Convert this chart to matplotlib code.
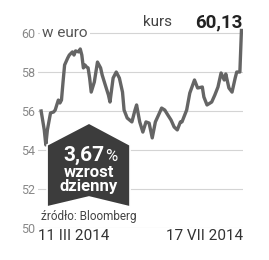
import numpy as np
import matplotlib
matplotlib.use("Agg")
import matplotlib.pyplot as plt
from matplotlib.patches import Polygon

# dni od 11 III 2014 i kurs zamkniecia (euro)
dni = [0, 2, 3, 4, 6, 8, 9, 10, 11, 12, 13, 14, 15, 17, 18, 20, 21, 22, 24, 25,
       26, 27, 28, 29, 30, 31, 32, 34, 36, 38, 39, 41, 43, 44, 46, 48, 50, 52, 53, 55,
       58, 60, 61, 63, 65, 67, 69, 71, 73, 75, 77, 79, 81, 83, 85, 87, 89, 90, 93, 95,
       98, 100, 103, 104, 106, 109, 111, 113, 115, 117, 118, 120, 122, 124, 125, 127, 128]
kurs = [56.00, 55.03, 54.26, 55.03, 55.90, 55.95, 56.05, 56.31, 56.56, 56.41,
        56.56, 57.49, 58.36, 58.72, 58.87, 59.03, 58.87, 59.08, 59.03, 59.18,
        58.87, 58.21, 58.36, 58.26, 58.21, 57.69, 56.97, 57.49, 58.51, 58.21,
        57.85, 57.33, 56.82, 56.46, 57.69, 58.00, 57.69, 56.97, 56.05, 55.64,
        55.44, 56.05, 56.31, 55.44, 54.92, 55.44, 55.38, 54.62, 55.44, 55.79,
        56.15, 56.05, 55.79, 55.54, 55.18, 55.03, 55.44, 55.44, 56.05, 56.92,
        57.59, 57.18, 57.23, 56.72, 56.31, 56.46, 56.82, 57.23, 57.95, 57.59,
        57.90, 57.18, 56.97, 57.69, 58.00, 58.00, 60.13]
y_ticks = [50, 52, 54, 56, 58, 60]
x_labels = ["11 III 2014", "17 VII 2014"]
ostatni = "60,13"
wzrost = "3,67"

font = ["Liberation Sans Narrow", "Roboto", "DejaVu Sans"]
plt.rcParams["font.family"] = font

fig = plt.figure(figsize=(2.69, 2.60), dpi=100)
ax = fig.add_axes([38 / 269, 32 / 260, 205 / 269, 214.5 / 260])

ax.plot(dni, kurs, color="#656565", lw=2.4, solid_joinstyle="round", zorder=3)

ax.set_xlim(-2, 129)
ax.set_ylim(50, 61)
ax.set_yticks(y_ticks)
ax.set_yticklabels([str(v) for v in y_ticks], fontsize=9, color="#888888")
ax.grid(axis="y", color="#d4d4d4", lw=0.8)
ax.tick_params(length=0, pad=2)
for s in ax.spines.values():
    s.set_visible(False)

ax.set_xticks([-2, 129])
ax.set_xticklabels(x_labels, fontsize=11, color="#333333")
ax.tick_params(axis="x", pad=1)
lbls = ax.get_xticklabels()
lbls[0].set_ha("left")
lbls[1].set_ha("right")

ax.text(0.6, 60, "w euro", fontsize=11, color="#555555", va="center", ha="left",
        bbox=dict(fc="white", ec="none", pad=1.5), zorder=4)
ax.text(65, 60.55, "kurs", fontsize=11, color="#444444", va="center", ha="left")
ax.text(129, 60.55, ostatni, fontsize=13.5, fontweight="bold", color="#222222",
        va="center", ha="right")

# strzalka z dziennym wzrostem
strz = Polygon([(3.8, 54.26), (30.6, 55.38), (56.8, 54.26), (56.8, 51.08),
                (30.6, 51.59), (3.8, 51.08)], closed=True, fc="#3c3c3c",
               ec="white", lw=1.2, zorder=5)
ax.add_patch(strz)
ax.text(40.5, 53.44, wzrost, fontsize=15, fontweight="bold", color="white",
        ha="right", va="baseline", zorder=6)
ax.text(40.8, 53.44, "%", fontsize=12, color="white", ha="left", va="baseline", zorder=6)
ax.text(30.6, 52.62, "wzrost", fontsize=12, fontweight="bold", color="white",
        ha="center", va="baseline", zorder=6)
ax.text(30.6, 51.88, "dzienny", fontsize=12, fontweight="bold", color="white",
        ha="center", va="baseline", zorder=6)

ax.text(0, 50.6, "źródło: Bloomberg", fontsize=8.5, color="#444444",
        ha="left", va="center", zorder=4)

fig.savefig("out.png", dpi=100)
